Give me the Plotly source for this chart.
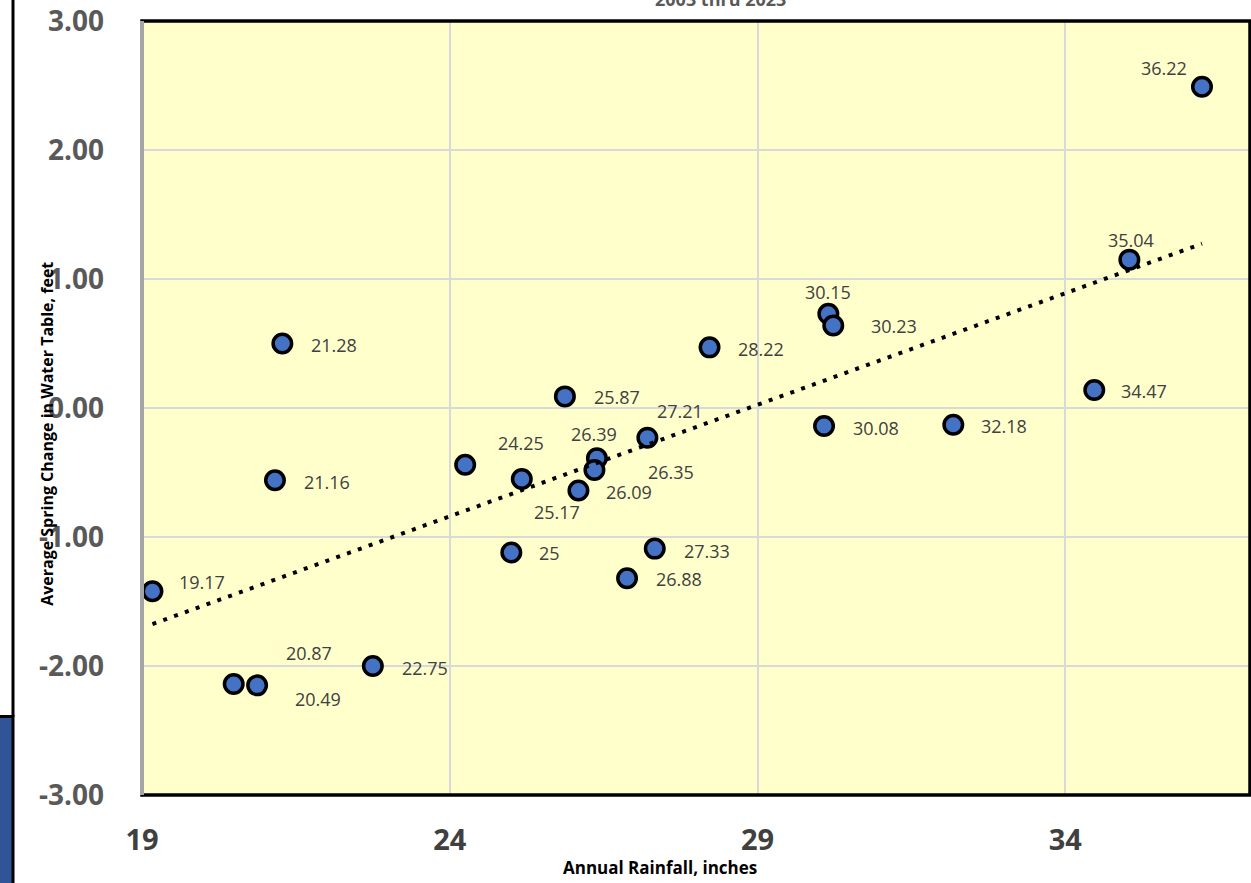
import numpy as np
import plotly.graph_objects as go

# ---- data ----
rainfall = [19.17, 20.49, 20.87, 21.16, 21.28, 22.75, 24.25, 25, 25.17, 25.87,
            26.09, 26.39, 26.35, 26.88, 27.21, 27.33, 28.22, 30.08, 30.15, 30.23,
            32.18, 34.47, 35.04, 36.22]
water_change = [-1.42, -2.14, -2.15, -0.56, 0.50, -2.00, -0.44, -1.12, -0.55, 0.09,
                -0.64, -0.39, -0.48, -1.32, -0.23, -1.09, 0.47, -0.14, 0.73, 0.64,
                -0.13, 0.14, 1.15, 2.49]
point_labels = [f"{v:g}" for v in rainfall]
x_ticks = [19, 24, 29, 34]
y_ticks = [-3, -2, -1, 0, 1, 2, 3]

# label offsets in pixels (dx right, dy down) relative to point centre
label_offsets = {
    "19.17": (50, -9), "20.49": (84, 15), "20.87": (52, -32), "21.16": (52, 2),
    "21.28": (52, 1), "22.75": (52, 2), "24.25": (56, -22), "25": (38, 1),
    "25.17": (35, 33), "25.87": (52, 1), "26.09": (51, 1), "26.39": (-3, -24),
    "26.35": (77, 2), "26.88": (52, 1), "27.21": (33, -27), "27.33": (52, 2),
    "28.22": (51, 2), "30.08": (52, 2), "30.15": (0, -22), "30.23": (61, 1),
    "32.18": (51, 1), "34.47": (50, 1), "35.04": (2, -20), "36.22": (-38, -19),
}

FONT = "Open Sans"
W, H = 1251, 883
ML, MR, MT, MB = 142, 1, 17, 88
PW, PH = W - ML - MR, H - MT - MB


def px(xp):
    return (xp - ML) / PW


def py(yp):
    return (H - MB - yp) / PH


fig = go.Figure()

fig.add_trace(go.Scatter(
    x=rainfall, y=water_change, mode="markers",
    marker=dict(size=18.5, color="#4472C4", line=dict(color="black", width=3.5)),
    hoverinfo="skip", showlegend=False,
))

# linear trendline from data
slope, intercept = np.polyfit(rainfall, water_change, 1)
tx = [min(rainfall), max(rainfall)]
ty = [slope * v + intercept for v in tx]
fig.add_trace(go.Scatter(
    x=tx, y=ty, mode="lines",
    line=dict(color="black", width=4, dash="4px,7.5px"),
    hoverinfo="skip", showlegend=False,
))

annotations = []
for xv, yv, lab in zip(rainfall, water_change, point_labels):
    dx, dy = label_offsets.get(lab, (52, 1))
    annotations.append(dict(
        x=xv, y=yv, xref="x", yref="y", text=lab, showarrow=False,
        xshift=dx, yshift=-dy, xanchor="center", yanchor="middle",
        font=dict(family=FONT, size=18, color="#404040"),
    ))

# axis titles & chart title
annotations.append(dict(
    x=px(660), y=py(868), xref="paper", yref="paper",
    text="<b>Annual Rainfall, inches</b>", showarrow=False,
    font=dict(family=FONT, size=17, color="black"),
    xanchor="center", yanchor="middle",
))
annotations.append(dict(
    x=px(47), y=py(432), xref="paper", yref="paper",
    text="<b>Average Spring Change in Water Table, feet</b>", showarrow=False,
    textangle=-90, font=dict(family=FONT, size=16, color="black"),
    xanchor="center", yanchor="middle",
))
annotations.append(dict(
    x=px(720), y=py(-5), xref="paper", yref="paper",
    text="<b>2003 thru 2023</b>", showarrow=False,
    font=dict(family=FONT, size=18, color="#595959"),
    xanchor="center", yanchor="middle",
))

shapes = [
    # plot border
    dict(type="rect", xref="paper", yref="paper", x0=0, x1=1, y0=0, y1=1,
         line=dict(color="black", width=3.5), layer="above"),
    dict(type="line", xref="paper", yref="paper", x0=0, x1=0, y0=0, y1=1,
         line=dict(color="#A6A6A6", width=4), layer="above"),
    # left decorations
    dict(type="line", xref="paper", yref="paper", x0=px(13), x1=px(13),
         y0=py(716), y1=py(-5), line=dict(color="black", width=3)),
    dict(type="rect", xref="paper", yref="paper", x0=px(-5), x1=px(13),
         y0=py(900), y1=py(716), fillcolor="#2F5597",
         line=dict(color="black", width=3)),
]

fig.update_layout(
    width=W, height=H,
    margin=dict(l=ML, r=MR, t=MT, b=MB),
    paper_bgcolor="white", plot_bgcolor="#FFFFCC",
    showlegend=False,
    annotations=annotations,
    shapes=shapes,
    xaxis=dict(
        range=[19, 37], tickvals=x_ticks, ticktext=[str(v) for v in x_ticks],
        showgrid=True, gridcolor="#D9D9D9", gridwidth=1.5, zeroline=False,
        tickfont=dict(family=FONT, size=29, color="#404040", weight="bold"),
        ticks="", ticklabelstandoff=25, showline=False, ticklabeloverflow="allow",
    ),
    yaxis=dict(
        range=[-3, 3], tickvals=y_ticks, ticktext=[f"{v:.2f}" for v in y_ticks],
        showgrid=True, gridcolor="#D9D9D9", gridwidth=1.5, zeroline=False,
        tickfont=dict(family=FONT, size=28, color="#595959", weight="bold"),
        ticks="", ticklabelstandoff=37, showline=False, ticklabeloverflow="allow",
    ),
)

fig.write_html(
    "out.html",
    config={"displayModeBar": False},
    post_script="document.body.style.margin='0';document.body.style.overflow='hidden';",
)
